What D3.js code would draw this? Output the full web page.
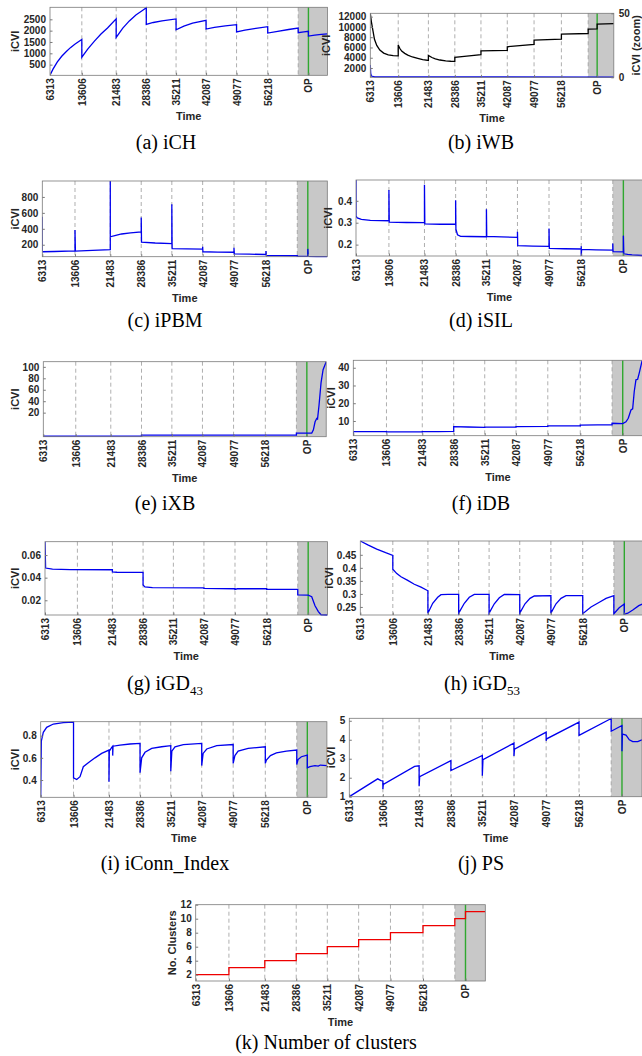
<!DOCTYPE html>
<html><head><meta charset="utf-8">
<script src="https://cdn.jsdelivr.net/npm/d3@7"></script>
<style>body{margin:0;background:#fff}svg{display:block}</style>
</head><body>
<svg id="fig" width="642" height="1056"></svg>
<script>
// ---------- data ----------
const TIME_TICKS = [6313, 13606, 21483, 28386, 35211, 42087, 49077, 56218];
const TICK_LABELS = ["6313", "13606", "21483", "28386", "35211", "42087", "49077", "56218", "OP"];
const SHADE_START = 63205;
const OP_TIME = 65550;
const T_END = 69900;

const iCH = [[6313,30],[7000,300],[8000,620],[9000,870],[10000,1070],[11000,1250],[12000,1400],[13000,1530],[13606,1610],[13606,830],[15000,1200],[16500,1540],[18000,1850],[19500,2120],[21483,2520],[21483,1700],[23000,2110],[24500,2430],[26000,2690],[27500,2890],[28386,3010],[28386,2280],[30000,2360],[32000,2430],[35211,2515],[35211,2040],[37000,2200],[39000,2330],[42087,2455],[42087,2070],[44000,2140],[46500,2210],[49077,2265],[49077,1940],[51000,2020],[53500,2100],[56218,2175],[56218,1895],[58500,1970],[61000,2050],[63205,2115],[63205,1910],[64500,1945],[65550,1970],[65550,1760],[67000,1800],[68500,1840],[69900,1860]];

const iWB = [[6313,12660],[6600,11000],[7000,9300],[7400,7600],[8000,6400],[8800,5500],[9800,4900],[11000,4580],[12300,4420],[13606,4370],[13606,6470],[14000,5850],[14500,5300],[15300,4850],[16100,4520],[17300,4150],[18700,3880],[20000,3650],[21483,3470],[21483,4460],[22400,4050],[23300,3800],[24500,3560],[26000,3400],[27300,3320],[28386,3280],[28386,4080],[31500,4300],[35211,4580],[35211,5360],[42087,5440],[42087,6140],[49077,6600],[49077,7440],[56218,7640],[56218,8600],[63205,8720],[63205,9570],[65550,9620],[65550,10540],[69900,10640]];
const iWB_zoom = [[6313,9.6],[6420,3],[6600,1],[7500,0.4],[69900,0.2]];

const iPBM = [[6313,550],[6313,112],[9000,115],[13606,122],[13606,384],[13700,120],[17500,130],[21483,140],[21483,1000],[21483,300],[22500,315],[24000,335],[26000,348],[28386,360],[28386,543],[28450,232],[31500,222],[35211,215],[35211,709],[35280,150],[38500,148],[42087,146],[42087,175],[42150,112],[45500,108],[49077,106],[49077,163],[49150,85],[52500,82],[56218,78],[56218,120],[56300,65],[59500,64],[63205,62],[63205,55],[65550,54],[65550,148],[65650,53],[67500,51],[69900,50]];

const iSIL = [[6313,0.495],[6313,0.33],[6600,0.322],[7500,0.315],[9500,0.311],[13606,0.309],[13606,0.449],[13680,0.303],[17500,0.301],[21483,0.3],[21483,0.473],[21560,0.295],[25000,0.293],[28386,0.293],[28386,0.403],[28450,0.27],[28800,0.245],[29500,0.238],[31500,0.237],[35211,0.236],[35211,0.361],[35280,0.238],[38500,0.235],[42087,0.233],[42087,0.259],[42150,0.195],[45500,0.193],[49077,0.192],[49077,0.273],[49150,0.183],[52500,0.181],[56218,0.18],[56218,0.192],[56218,0.148],[56300,0.178],[59500,0.176],[63205,0.175],[63205,0.205],[63270,0.168],[65550,0.167],[65550,0.241],[65650,0.158],[66500,0.155],[67500,0.153],[69900,0.15]];

const iXB = [[6313,-21],[28386,-21],[28386,-19.3],[63205,-19.3],[63205,-15.6],[66650,-15.6],[67020,-10],[67400,4],[67775,10],[67950,9],[68288,33],[68738,72],[69200,95],[69900,109]];

const iDB = [[6313,1.7],[6313,3.95],[7500,4.0],[13606,4.0],[13606,3.8],[17500,3.8],[21483,3.85],[21483,4.0],[25000,4.05],[28386,4.1],[28386,6.8],[31500,6.6],[35211,6.4],[35211,6.5],[42087,6.6],[42087,6.8],[49077,7.0],[49077,7.2],[56218,7.3],[56218,7.7],[60000,7.8],[63205,7.8],[63205,8.7],[65550,8.5],[66265,9.5],[66770,11.5],[67365,16.2],[67735,16.8],[68085,26.6],[68460,33.2],[68835,33.5],[69180,37],[69775,43.5],[69900,44.2]];

const iGD43 = [[6313,0.0717],[6450,0.0485],[8000,0.0475],[12000,0.0472],[21483,0.047],[21483,0.0452],[22500,0.0448],[28386,0.0447],[28386,0.0335],[28800,0.0318],[30500,0.0312],[42087,0.031],[42087,0.0306],[49077,0.0302],[49077,0.0296],[49600,0.0302],[56218,0.0302],[56218,0.0297],[63205,0.0297],[63205,0.0247],[65550,0.0245],[66350,0.0232],[67090,0.0152],[67840,0.010],[68440,0.0072],[69900,0.007]];

const iGD53 = [[6313,0.503],[8000,0.488],[10000,0.472],[12000,0.458],[13606,0.448],[13606,0.395],[14500,0.378],[15445,0.366],[16950,0.352],[18430,0.337],[19935,0.326],[21483,0.312],[21483,0.226],[22560,0.264],[23680,0.287],[24420,0.297],[26000,0.298],[28386,0.298],[28386,0.226],[29650,0.264],[30770,0.287],[31890,0.298],[35211,0.298],[35211,0.226],[36380,0.262],[37500,0.285],[38625,0.298],[42087,0.297],[42087,0.226],[43270,0.262],[44390,0.283],[45360,0.292],[49077,0.293],[49077,0.226],[50230,0.262],[51350,0.283],[52470,0.293],[56218,0.293],[56218,0.224],[58080,0.25],[59950,0.268],[61450,0.283],[63205,0.293],[63205,0.224],[64400,0.247],[65550,0.261],[65550,0.222],[66330,0.226],[67450,0.238],[68800,0.255],[69900,0.263]];

const iConn = [[6313,0.244],[6450,0.75],[6890,0.83],[7640,0.875],[9120,0.905],[11340,0.918],[13606,0.922],[13606,0.42],[14310,0.405],[15050,0.43],[15780,0.52],[16890,0.555],[18380,0.6],[19860,0.64],[21483,0.67],[21483,0.385],[21560,0.66],[22090,0.695],[22310,0.705],[22310,0.62],[22380,0.705],[23930,0.715],[26150,0.725],[28386,0.73],[28386,0.465],[28750,0.6],[29490,0.65],[30970,0.685],[33190,0.70],[35211,0.71],[35211,0.48],[35450,0.66],[36150,0.70],[38000,0.72],[42087,0.73],[42087,0.53],[42400,0.64],[43200,0.68],[45420,0.71],[49077,0.72],[49077,0.55],[49460,0.62],[50180,0.66],[52400,0.685],[56218,0.70],[56218,0.55],[56460,0.58],[57350,0.62],[58680,0.645],[60900,0.66],[63205,0.67],[63205,0.54],[63490,0.585],[64230,0.61],[65550,0.625],[65550,0.51],[66140,0.52],[67250,0.53],[67990,0.525],[68430,0.535],[69900,0.53]];

const PS = [[6313,1.0],[12480,1.94],[13200,1.85],[13606,1.83],[13606,1.4],[13700,1.65],[20500,2.6],[21483,2.63],[21483,1.55],[21600,2.05],[28386,2.9],[28386,2.38],[35211,3.17],[35211,2.1],[35350,2.95],[42087,3.82],[42087,3.15],[42200,3.5],[49077,4.4],[49077,3.95],[49200,4.05],[56218,4.93],[56218,4.23],[63205,5.12],[63205,4.45],[65550,4.75],[65550,3.4],[65650,4.3],[66430,4.25],[67150,4.0],[67880,3.9],[68970,3.9],[69900,4.0]];

const clusters = [[6313,2],[13606,2],[13606,3],[21483,3],[21483,4],[28386,4],[28386,5],[35211,5],[35211,6],[42087,6],[42087,7],[49077,7],[49077,8],[56218,8],[56218,9],[63205,9],[63205,10],[65550,10],[65550,11],[69900,11]];

const TICKS_A = [500,1000,1500,2000,2500];
const TICKS_B = [2000,4000,6000,8000,10000,12000];
const TICKS_B2 = [0,50];
const TICKS_C = [200,400,600,800];
const TICKS_D = [0.2,0.3,0.4];
const TICKS_E = [20,40,60,80,100];
const TICKS_F = [10,20,30,40];
const TICKS_G = [0.02,0.04,0.06];
const TICKS_H = [0.25,0.3,0.35,0.4,0.45];
const TICKS_I = [0.4,0.6,0.8];
const TICKS_J = [1,2,3,4,5];
const TICKS_K = [2,4,6,8,10,12];

// ---------- layout / style ----------
const BLUE = "#0000ee", RED = "#ee0000", GREEN = "#2fa82f";
const SANS = "'Liberation Sans', Arial, Helvetica, sans-serif";
const SERIF = "'Liberation Serif', 'Times New Roman', serif";

const panels = [
 {series:[{data:iCH,color:BLUE}], yDomain:[30,3030], yTicks:TICKS_A, left:50, width:277.4, top:7.3, height:68, ylabX:15, ylab:"iCVI", cap:["(a) iCH"], capX:166, capY:149},
 {series:[{data:iWB_zoom,color:BLUE,right:true},{data:iWB,color:"#000"}], yDomain:[190,12660], yTicks:TICKS_B, y2Domain:[0,50], y2Ticks:TICKS_B2, y2lab:"iCVI (zoom)", y2labX:636, left:370.3, width:243.5, top:13.3, height:64, ylabX:326, ylab:"iCVI", cap:["(b) iWB"], capX:481, capY:149},
 {series:[{data:iPBM,color:BLUE}], yDomain:[50,1000], yTicks:TICKS_C, left:42.3, width:285, top:181, height:75.7, ylabX:15, ylab:"iCVI", cap:["(c) iPBM"], capX:165, capY:327},
 {series:[{data:iSIL,color:BLUE}], yDomain:[0.148,0.495], yTicks:TICKS_D, left:356, width:287, top:180, height:76, ylabX:328, ylab:"iCVI", cap:["(d) iSIL"], capX:481, capY:327},
 {series:[{data:iXB,color:BLUE}], yDomain:[-22,109], yTicks:TICKS_E, left:43.3, width:282.9, top:361.7, height:75, ylabX:15, ylab:"iCVI", cap:["(e) iXB"], capX:165, capY:510},
 {series:[{data:iDB,color:BLUE}], yDomain:[1.7,44.2], yTicks:TICKS_F, left:353.3, width:289.2, top:360.3, height:75.4, ylabX:331, ylab:"iCVI", cap:["(f) iDB"], capX:481, capY:510},
 {series:[{data:iGD43,color:BLUE}], yDomain:[0.007,0.0718], yTicks:TICKS_G, left:45, width:282.5, top:541.7, height:73.3, ylabX:15, ylab:"iCVI", cap:["(g) iGD","43"], capX:165, capY:690},
 {series:[{data:iGD53,color:BLUE}], yDomain:[0.219,0.503], yTicks:TICKS_H, left:360.3, width:283.4, top:541, height:74, ylabX:329, ylab:"iCVI", cap:["(h) iGD","53"], capX:482, capY:690},
 {series:[{data:iConn,color:BLUE}], yDomain:[0.244,0.926], yTicks:TICKS_I, left:40.7, width:286.2, top:721.7, height:75.6, ylabX:15, ylab:"iCVI", cap:["(i) iConn_Index"], capX:165, capY:870},
 {series:[{data:PS,color:BLUE}], yDomain:[1,5.13], yTicks:TICKS_J, left:349.3, width:292.7, top:718.3, height:78.4, ylabX:331, ylab:"iCVI", cap:["(j) PS"], capX:481, capY:870},
 {series:[{data:clusters,color:RED}], yDomain:[1.1,12], yTicks:TICKS_K, left:195.7, width:289.6, top:904.7, height:76.3, ylabX:171.7, ylab:"No. Clusters", cap:["(k) Number of clusters"], capX:326, capY:1049}
];

const svg = d3.select("#fig");
const defs = svg.append("defs");
const labelLayer = svg.append("g");

panels.forEach((p, idx) => {
  const g = svg.insert("g", ":first-child");
  const x = d3.scaleLinear().domain([TIME_TICKS[0], T_END]).range([p.left, p.left + p.width]);
  const y = d3.scaleLinear().domain(p.yDomain).range([p.top + p.height, p.top]);
  const bottom = p.top + p.height;

  const cid = "clip" + idx;
  defs.append("clipPath").attr("id", cid).append("rect")
    .attr("x", p.left).attr("y", p.top - 1).attr("width", p.width).attr("height", p.height + 2);

  g.append("rect").attr("x", p.left).attr("y", p.top).attr("width", p.width).attr("height", p.height).attr("fill", "#fff");
  g.append("rect").attr("x", x(SHADE_START)).attr("y", p.top)
    .attr("width", x(T_END) - x(SHADE_START)).attr("height", p.height).attr("fill", "#c8c8c8");

  g.selectAll("line.grid").data([...TIME_TICKS.slice(1), SHADE_START]).join("line")
    .attr("x1", d => x(d)).attr("x2", d => x(d)).attr("y1", p.top).attr("y2", bottom)
    .attr("stroke", "#9a9a9a").attr("stroke-width", 0.8).attr("stroke-dasharray", "4,3");

  g.append("line").attr("x1", x(OP_TIME)).attr("x2", x(OP_TIME)).attr("y1", p.top).attr("y2", bottom)
    .attr("stroke", GREEN).attr("stroke-width", 1.4);

  const y2 = p.y2Domain ? d3.scaleLinear().domain(p.y2Domain).range([bottom, p.top]) : null;
  p.series.forEach(s => {
    const ys = s.right ? y2 : y;
    const line = d3.line().x(d => x(d[0])).y(d => ys(d[1]));
    g.append("path").datum(s.data).attr("d", line).attr("fill", "none")
      .attr("stroke", s.color).attr("stroke-width", 1.3).attr("clip-path", `url(#${cid})`);
  });

  g.append("rect").attr("x", p.left).attr("y", p.top).attr("width", p.width).attr("height", p.height)
    .attr("fill", "none").attr("stroke", "#7a7a7a").attr("stroke-width", 0.8);

  // x axis
  const xa = g.append("g").attr("transform", `translate(0,${bottom})`)
    .call(d3.axisBottom(x).tickValues([...TIME_TICKS, OP_TIME]).tickFormat((d, i) => TICK_LABELS[i]).tickSizeInner(-2.5).tickSizeOuter(0));
  xa.select(".domain").remove();
  xa.selectAll(".tick line").attr("stroke", "#7a7a7a");
  xa.selectAll(".tick text")
    .attr("transform", "rotate(-90)").attr("text-anchor", "end")
    .attr("x", -3).attr("y", 0).attr("dy", null).attr("dominant-baseline", "central")
    .attr("font-family", SANS).attr("font-weight", "bold").attr("font-size", 10).attr("fill", "#262626");

  // y axis
  const ya = g.append("g").attr("transform", `translate(${p.left},0)`)
    .call(d3.axisLeft(y).tickValues(p.yTicks).tickFormat(d => String(d)).tickSizeInner(-2.5).tickSizeOuter(0).tickPadding(4));
  ya.select(".domain").remove();
  ya.selectAll(".tick line").attr("stroke", "#7a7a7a");
  ya.selectAll(".tick text").attr("font-family", SANS).attr("font-weight", "bold").attr("font-size", 10).attr("fill", "#262626");

  if (y2) {
    const yb = g.append("g").attr("transform", `translate(${p.left + p.width},0)`)
      .call(d3.axisRight(y2).tickValues(p.y2Ticks).tickFormat(d => String(d)).tickSizeInner(-2.5).tickSizeOuter(0).tickPadding(5));
    yb.select(".domain").remove();
    yb.selectAll(".tick line").attr("stroke", "#7a7a7a");
    yb.selectAll(".tick text").attr("font-family", SANS).attr("font-weight", "bold").attr("font-size", 10).attr("fill", "#262626");
    labelLayer.append("text").attr("transform", `translate(${p.y2labX},${p.top + p.height / 2}) rotate(-90)`)
      .attr("text-anchor", "middle").attr("dominant-baseline", "central")
      .attr("font-family", SANS).attr("font-weight", "bold").attr("font-size", 11).attr("fill", "#262626").text(p.y2lab);
  }

  // axis labels
  labelLayer.append("text").attr("x", p.left + p.width / 2).attr("y", bottom + 45)
    .attr("text-anchor", "middle").attr("font-family", SANS).attr("font-weight", "bold").attr("font-size", 11).attr("fill", "#262626").text("Time");
  labelLayer.append("text").attr("transform", `translate(${p.ylabX},${p.top + p.height / 2}) rotate(-90)`)
    .attr("text-anchor", "middle").attr("dominant-baseline", "central")
    .attr("font-family", SANS).attr("font-weight", "bold").attr("font-size", 11).attr("fill", "#262626").text(p.ylab);

  // caption
  const cap = labelLayer.append("text").attr("x", p.capX).attr("y", p.capY).attr("text-anchor", "middle")
    .attr("font-family", SERIF).attr("font-size", 20).attr("fill", "#000");
  cap.append("tspan").text(p.cap[0]);
  if (p.cap[1]) cap.append("tspan").attr("font-size", 13).attr("dy", 5).text(p.cap[1]);
});
</script>
</body></html>
